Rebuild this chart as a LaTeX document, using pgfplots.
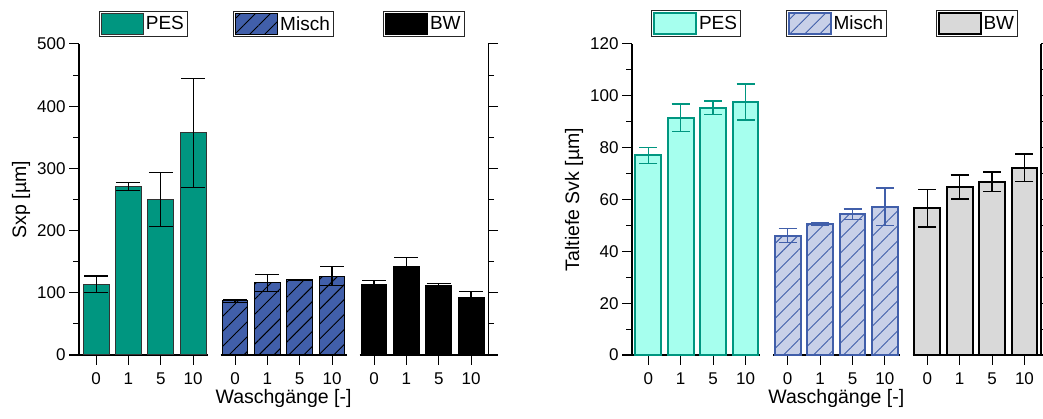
\documentclass[border=0pt]{standalone}
\usepackage{fontspec}
\setmainfont{Liberation Sans}
\usepackage{pgfplots}
\pgfplotsset{compat=1.18}
\usetikzlibrary{patterns.meta}

\definecolor{pesL}{RGB}{0,150,128}
\definecolor{mischL}{RGB}{65,95,170}
\definecolor{pesR}{RGB}{166,255,238}
\definecolor{mischR}{RGB}{200,208,232}
\definecolor{bwR}{RGB}{217,217,217}

\pgfplotsset{
  grp/.style={
    scale only axis, height=311pt, ymin=0,
    ybar, bar width=0.8, bar shift=0pt,
    tick align=outside, major tick length=10pt, minor tick length=6pt,
    xtick={0,1,2,3}, xticklabels={0,1,5,10},
    tick style={black, line width=1pt},
    axis line style={line width=1.2pt},
    ticklabel style={font=\fontsize{17}{20}\selectfont},
    /pgf/number format/assume math mode=true,
    clip=false,
    minor y tick num=1,
    xticklabel style={yshift=-4pt},
    xlabel style={font=\fontsize{19.5}{22}\selectfont, yshift=2pt},
    ylabel style={font=\fontsize{19.5}{22}\selectfont},
    legend style={draw=black!85, line width=1pt, fill=white,
      at={(0.5,1)}, anchor=south, yshift=7pt,
      font=\fontsize{19}{22}\selectfont, inner sep=1.5pt,
      /tikz/every even column/.style={column sep=1pt}},
  },
  g1/.style={grp, axis x line*=bottom, axis y line*=left,
    x axis line style={shorten <=-10pt}},
  g2/.style={grp, axis x line*=bottom, axis y line=none, ytick=\empty},
  g3/.style={grp, axis x line*=bottom, axis y line*=right, yticklabels={},
    x axis line style={shorten >=-10pt}},
  leftp/.style={ymax=500, ytick={0,100,...,500}},
  rightp/.style={ymax=120, ytick={0,20,...,120}},
  lg/.style={legend image code/.code={\draw[##1] (0pt,-10.5pt) rectangle (42pt,10.5pt);}},
}

\begin{document}
\begin{tikzpicture}[x=1pt,y=1pt]
% ---------------- left panel ----------------
\begin{axis}[g1, leftp, at={(79pt,64pt)}, anchor=south west,
  width=128.7pt, xmin=-0.53, xmax=3.45, ylabel={Sxp [µm]}]
\addplot[fill=pesL, draw=black!80, line width=1pt, lg,
  error bars/.cd, y dir=both, y explicit,
  error bar style={line width=1.2pt, black},
  error mark options={rotate=90, line width=1.2pt, mark size=12pt, black}]
  coordinates {(0,114) +- (0,13) (1,271) +- (0,6) (2,250) +- (0,43) (3,357) +- (0,88)};
\addlegendentry{PES}
\end{axis}
\begin{axis}[g2, leftp, at={(220.5pt,64pt)}, anchor=south west,
  width=126.1pt, xmin=-0.45, xmax=3.45, xlabel={Waschgänge [-]}]
\addplot[fill=mischL, draw=black, line width=1pt, lg,
  postaction={pattern={Lines[angle=45,distance=10.6pt,line width=0.9pt]}, pattern color=black},
  error bars/.cd, y dir=both, y explicit,
  error bar style={line width=1.2pt, black},
  error mark options={rotate=90, line width=1.2pt, mark size=12pt, black}]
  coordinates {(0,87) +- (0,2) (1,116) +- (0,14) (2,121) +- (0,1) (3,127) +- (0,15)};
\addlegendentry{Misch}
\end{axis}
\begin{axis}[g3, leftp, at={(359.5pt,64pt)}, anchor=south west,
  width=128.7pt, xmin=-0.45, xmax=3.53]
\addplot[fill=black, draw=black, line width=1pt, lg,
  error bars/.cd, y dir=both, y explicit,
  error bar style={line width=1.2pt, black},
  error mark options={rotate=90, line width=1.2pt, mark size=12pt, black}]
  coordinates {(0,113) +- (0,6.5) (1,141.5) +- (0,15) (2,111.5) +- (0,4) (3,92) +- (0,10)};
\addlegendentry{BW}
\end{axis}
% ---------------- right panel ----------------
\begin{axis}[g1, rightp, at={(632pt,64pt)}, anchor=south west,
  width=128.1pt, xmin=-0.503, xmax=3.45, ylabel={Taltiefe Svk [µm]}]
\addplot[fill=pesR, draw=pesL, line width=2pt, lg,
  error bars/.cd, y dir=both, y explicit,
  error bar style={line width=1.4pt, pesL},
  error mark options={rotate=90, line width=1.4pt, mark size=9pt, pesL}]
  coordinates {(0,77) +- (0,3) (1,91.6) +- (0,5.3) (2,95.4) +- (0,2.6) (3,97.6) +- (0,7)};
\addlegendentry{PES}
\end{axis}
\begin{axis}[g2, rightp, at={(773.1pt,64pt)}, anchor=south west,
  width=126.4pt, xmin=-0.45, xmax=3.45, xlabel={Waschgänge [-]}]
\addplot[fill=mischR, draw=mischL, line width=2pt, lg,
  postaction={pattern={Lines[angle=45,distance=10.6pt,line width=0.9pt]}, pattern color=mischL},
  error bars/.cd, y dir=both, y explicit,
  error bar style={line width=1.4pt, mischL},
  error mark options={rotate=90, line width=1.4pt, mark size=9pt, mischL}]
  coordinates {(0,46) +- (0,2.7) (1,50.7) +- (0,0.5) (2,54.3) +- (0,2.1) (3,57.2) +- (0,7.2)};
\addlegendentry{Misch}
\end{axis}
\begin{axis}[g3, rightp, at={(912.7pt,64pt)}, anchor=south west,
  width=128.3pt, xmin=-0.45, xmax=3.51]
\addplot[fill=bwR, draw=black, line width=2pt, lg,
  error bars/.cd, y dir=both, y explicit,
  error bar style={line width=1.4pt, black},
  error mark options={rotate=90, line width=1.4pt, mark size=9pt, black}]
  coordinates {(0,56.6) +- (0,7.2) (1,64.8) +- (0,4.6) (2,66.8) +- (0,3.8) (3,72.2) +- (0,5.3)};
\addlegendentry{BW}
\end{axis}
\pgfresetboundingbox
\useasboundingbox (0,0) rectangle (1043,419);
\end{tikzpicture}
\end{document}
